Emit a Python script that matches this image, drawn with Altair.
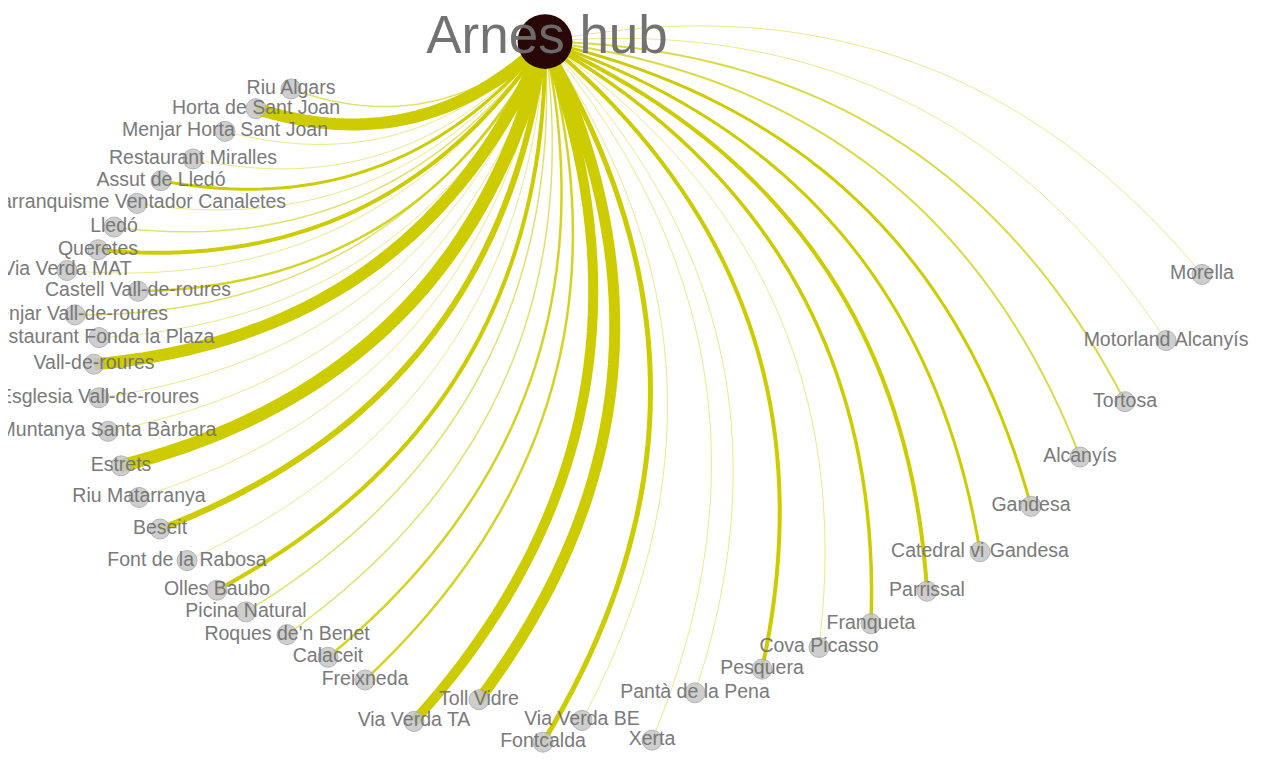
import altair as alt
import pandas as pd
import numpy as np

# Hub
hub_name = "Arnes hub"
hub_x, hub_y = 545, 40

# Destination nodes (layout position) and edge weights
names = [
    "Riu Algars", "Horta de Sant Joan", "Menjar Horta Sant Joan", "Restaurant Miralles",
    "Assut de Lledó", "Barranquisme Ventador Canaletes", "Lledó", "Queretes",
    "Via Verda MAT", "Castell Vall-de-roures", "Menjar Vall-de-roures",
    "Restaurant Fonda la Plaza", "Vall-de-roures", "Esglesia Vall-de-roures",
    "Muntanya Santa Bàrbara", "Estrets", "Riu Matarranya", "Beseit",
    "Font de la Rabosa", "Olles Baubo", "Picina Natural", "Roques de'n Benet",
    "Calaceit", "Freixneda", "Via Verda TA", "Toll Vidre", "Fontcalda",
    "Via Verda BE", "Xerta", "Pantà de la Pena", "Pesquera", "Cova Picasso",
    "Franqueta", "Parrissal", "Catedral vi Gandesa", "Gandesa", "Alcanyís",
    "Tortosa", "Motorland Alcanyís", "Morella",
]
node_x = [291, 256, 225, 193, 161, 137, 114, 98, 67, 138, 75, 99, 94, 99, 108, 121,
          139, 160, 187, 217, 246, 287, 328, 365, 414, 479, 543, 582, 652, 695, 762,
          819, 871, 927, 980, 1031, 1080, 1125, 1166, 1202]
node_y = [88, 108, 131, 159, 181, 204, 228, 251, 272, 293, 317, 340, 367, 401, 435, 470,
          502, 534, 566, 596, 618, 641, 664, 687, 729, 707, 750, 728, 748, 700, 676,
          654, 630, 597, 557, 511, 461, 405, 343, 276]
weights = [1.5, 12, 1, 1, 3, 1, 1.5, 4, 1, 2.5, 1.5, 1, 12, 1, 1, 13, 1, 6, 1, 4, 1.5,
           1.5, 2.5, 2.5, 10, 11, 5, 1, 1, 1, 4, 1, 3.5, 4, 3, 3, 2, 2, 1, 1]

nodes = pd.DataFrame({"name": names, "x": node_x, "y": node_y, "weight": weights})

# Curved (quadratic Bezier) edges derived from the node positions
bend = 0.3
rows = []
ts = np.linspace(0, 1, 41)
for i, (n, x1, y1, w) in enumerate(zip(names, node_x, node_y, weights)):
    dx, dy = x1 - hub_x, y1 - hub_y
    mx, my = (hub_x + x1) / 2, (hub_y + y1) / 2
    cx, cy = mx + bend * dy, my - bend * dx
    for k, t in enumerate(ts):
        bx = (1 - t) ** 2 * hub_x + 2 * (1 - t) * t * cx + t ** 2 * x1
        by = (1 - t) ** 2 * hub_y + 2 * (1 - t) * t * cy + t ** 2 * y1
        rows.append({"edge": i, "order": k, "x": bx, "y": by, "weight": w})
edges = pd.DataFrame(rows)

hub = pd.DataFrame({"name": [hub_name], "x": [hub_x], "y": [hub_y]})

xs = alt.Scale(domain=[8, 1254])
ys = alt.Scale(domain=[6, 761], reverse=True)
X = lambda f="x": alt.X(f"{f}:Q", scale=xs, axis=None)
Y = lambda f="y": alt.Y(f"{f}:Q", scale=ys, axis=None)

edge_layer = alt.Chart(edges).mark_line(color="#cccc00", strokeCap="butt", clip=True).encode(
    x=X(), y=Y(), detail="edge:N", order="order:Q",
    strokeWidth=alt.StrokeWidth("weight:Q", scale=alt.Scale(domain=[1, 13], range=[1, 13]), legend=None),
    opacity=alt.Opacity("weight:Q", scale=alt.Scale(domain=[1, 3], range=[0.45, 1], clamp=True), legend=None),
)

node_layer = alt.Chart(nodes).mark_circle(
    size=400, color="#c6c6c6", opacity=0.85, stroke="#a8a8a8", strokeWidth=1, clip=True
).encode(x=X(), y=Y())

label_layer = alt.Chart(nodes).mark_text(
    font="Liberation Sans", fontSize=19.5, color="#737373", align="center", baseline="middle",
    dy=-1, clip=True, opacity=0.95
).encode(x=X(), y=Y(), text="name:N")

hub_layer = alt.Chart(hub).mark_circle(size=3000, color="#2a0707", opacity=1).encode(x=X(), y=Y())

hub_label = alt.Chart(hub).mark_text(
    font="Liberation Sans", fontSize=53, color="#6e6e6e", align="center", baseline="middle",
    dy=-5, dx=2, opacity=0.97
).encode(x=X(), y=Y(), text="name:N")

chart = alt.layer(edge_layer, hub_layer, node_layer, label_layer, hub_label).properties(
    width=1246, height=745, padding=0, autosize=alt.AutoSizeParams(type="none"),
    background="white",
).configure_view(stroke=None)

chart.save("out.html", embed_options={"renderer": "svg", "actions": False})
